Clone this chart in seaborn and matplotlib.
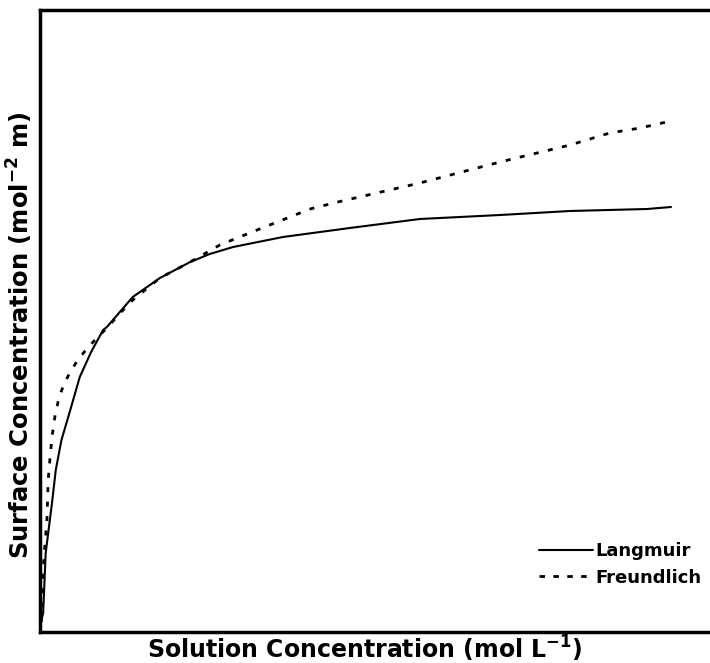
import matplotlib
matplotlib.use("Agg")
import matplotlib.pyplot as plt
import seaborn as sns
import pandas as pd
from matplotlib.lines import Line2D

# Data (arbitrary units; no ticks shown)
lang_x = [0.008, 0.05, 0.09, 0.19, 0.25, 0.34, 0.48, 0.63, 0.81, 1.00, 1.06, 1.47,
          1.90, 2.38, 2.69, 3.06, 3.85, 4.91, 6.02, 7.29, 8.40, 9.62, 10.0]
lang_y = [0.08, 0.19, 0.79, 1.29, 1.62, 1.92, 2.22, 2.55, 2.80, 3.02, 3.05, 3.35,
          3.54, 3.70, 3.78, 3.85, 3.95, 4.04, 4.13, 4.17, 4.21, 4.23, 4.25]
freu_x = [0.02, 0.04, 0.05, 0.08, 0.11, 0.13, 0.16, 0.19, 0.24, 0.30, 0.38, 0.48,
          0.60, 0.74, 0.90, 1.06, 1.27, 1.47, 1.90, 2.38, 2.85, 3.36, 3.80, 4.28,
          4.72, 6.02, 7.29, 8.40, 9.03, 9.51, 10.0]
freu_y = [0.10, 0.35, 0.62, 0.89, 1.12, 1.52, 1.75, 1.95, 2.17, 2.34, 2.48, 2.60,
          2.72, 2.83, 2.94, 3.04, 3.19, 3.32, 3.54, 3.70, 3.87, 4.00, 4.11, 4.23,
          4.30, 4.49, 4.70, 4.87, 4.99, 5.04, 5.11]
series_names = ["Langmuir", "Freundlich"]
x_label = "Solution Concentration (mol L$^{\\mathbf{-1}}$)"
y_label = "Surface Concentration (mol$^{\\mathbf{-2}}$ m)"

df = pd.concat([
    pd.DataFrame({"x": lang_x, "y": lang_y, "model": series_names[0]}),
    pd.DataFrame({"x": freu_x, "y": freu_y, "model": series_names[1]}),
])

sns.set_style("white")
plt.rcParams["font.family"] = ["DejaVu Sans"]
plt.rcParams["mathtext.fontset"] = "dejavusans"

fig = plt.figure(figsize=(7.10, 6.63), dpi=100)
ax = fig.add_axes([40 / 710, 31 / 663, 670 / 710, (632 - 10) / 663])

sns.lineplot(data=df, x="x", y="y", hue="model", style="model",
             palette=["black", "black"],
             dashes={"Langmuir": "", "Freundlich": (1.8, 3.4)},
             sort=False, estimator=None, ax=ax, legend=False)
lines = ax.get_lines()
lines[0].set_linewidth(1.5)
lines[1].set_linewidth(2.0)

ax.set_xlim(0, 670 / 63.1)
ax.set_ylim(0, 6.22)
ax.set_xticks([])
ax.set_yticks([])
for s in ["left", "top", "bottom"]:
    ax.spines[s].set_color("black")
    ax.spines[s].set_linewidth(2.5)
ax.spines["right"].set_visible(False)

ax.set_xlabel(x_label, fontsize=17, fontweight="bold", color="black")
ax.set_ylabel(y_label, fontsize=17.5, fontweight="bold", color="black")
ax.xaxis.set_label_coords(0.485, -0.003)
ax.yaxis.set_label_coords(-0.008, 0.4775)

handles = [Line2D([], [], color="black", lw=1.5),
           Line2D([], [], color="black", lw=2.0, dashes=(2.0, 3.0))]
leg = ax.legend(handles, series_names, loc="lower right",
                bbox_to_anchor=(1.012, 0.047), frameon=False,
                handlelength=3.0, handletextpad=0.15, labelspacing=0.45,
                prop={"family": "DejaVu Sans", "weight": "bold", "size": 13})
for t in leg.get_texts():
    t.set_color("black")

fig.savefig("out.png", dpi=100)
